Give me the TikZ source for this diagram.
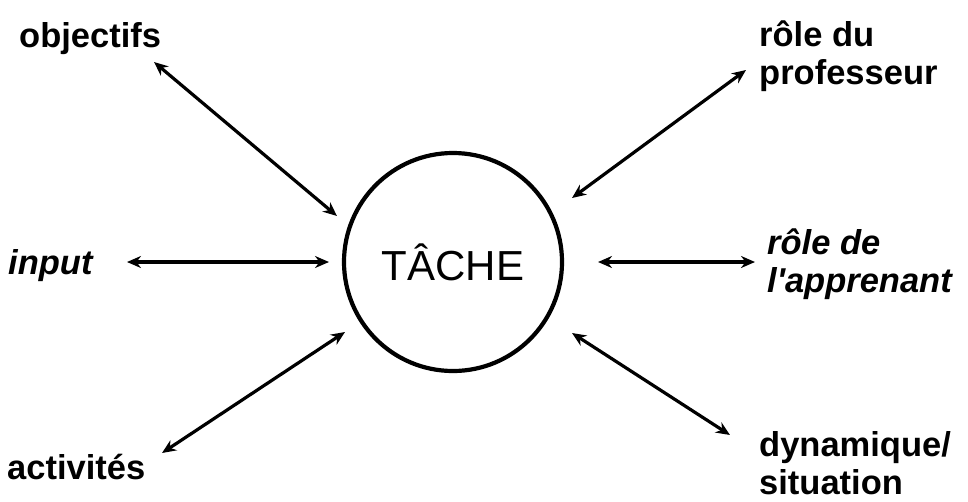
\documentclass[tikz,border=0pt]{standalone}
\usepackage{fontspec}
\setmainfont{Liberation Sans}
\usetikzlibrary{arrows.meta}
\begin{document}
\begin{tikzpicture}[x=1pt,y=-1pt,
  lbl/.style={inner sep=0pt,font=\fontsize{34.5}{38}\selectfont\bfseries,align=left},
  ilbl/.style={lbl,font=\fontsize{34.5}{38}\selectfont\bfseries\itshape},
  link/.style={line width=3.2pt,{Stealth[length=14pt,width=12pt]}-{Stealth[length=14pt,width=12pt]}},
  hub/.style={circle,draw,line width=4.2pt,minimum size=218pt,inner sep=0pt,font=\fontsize{42}{42}\selectfont}]
\useasboundingbox (0,0) rectangle (968,501);
\node[hub] (tache) at (453,262) {TÂCHE};
\node[lbl,anchor=base west] (obj) at (19,47) {objectifs};
\node[lbl,anchor=base west] (prof) at (759,84) {rôle du\\professeur};
\node[ilbl,anchor=base west] (input) at (8,274) {input};
\node[ilbl,anchor=base west] (app) at (767,292) {rôle de\\l\textquotesingle apprenant};
\node[lbl,anchor=base west] (act) at (7,479) {activités};
\node[lbl,anchor=base west] (dyn) at (759,494) {dynamique/\\situation};
\coordinate (o1) at (154,62);  \coordinate (o2) at (337,216);
\coordinate (p1) at (746,70);  \coordinate (p2) at (572,198);
\coordinate (i1) at (127,262); \coordinate (i2) at (329,262);
\coordinate (a1) at (162,453); \coordinate (a2) at (345,332);
\coordinate (r1) at (598,262); \coordinate (r2) at (755,262);
\coordinate (d1) at (572,333); \coordinate (d2) at (730,435);
\draw[link] (o1) -- (o2);
\draw[link] (p1) -- (p2);
\draw[link] (i1) -- (i2);
\draw[link] (a1) -- (a2);
\draw[link] (r1) -- (r2);
\draw[link] (d1) -- (d2);
\end{tikzpicture}
\end{document}
